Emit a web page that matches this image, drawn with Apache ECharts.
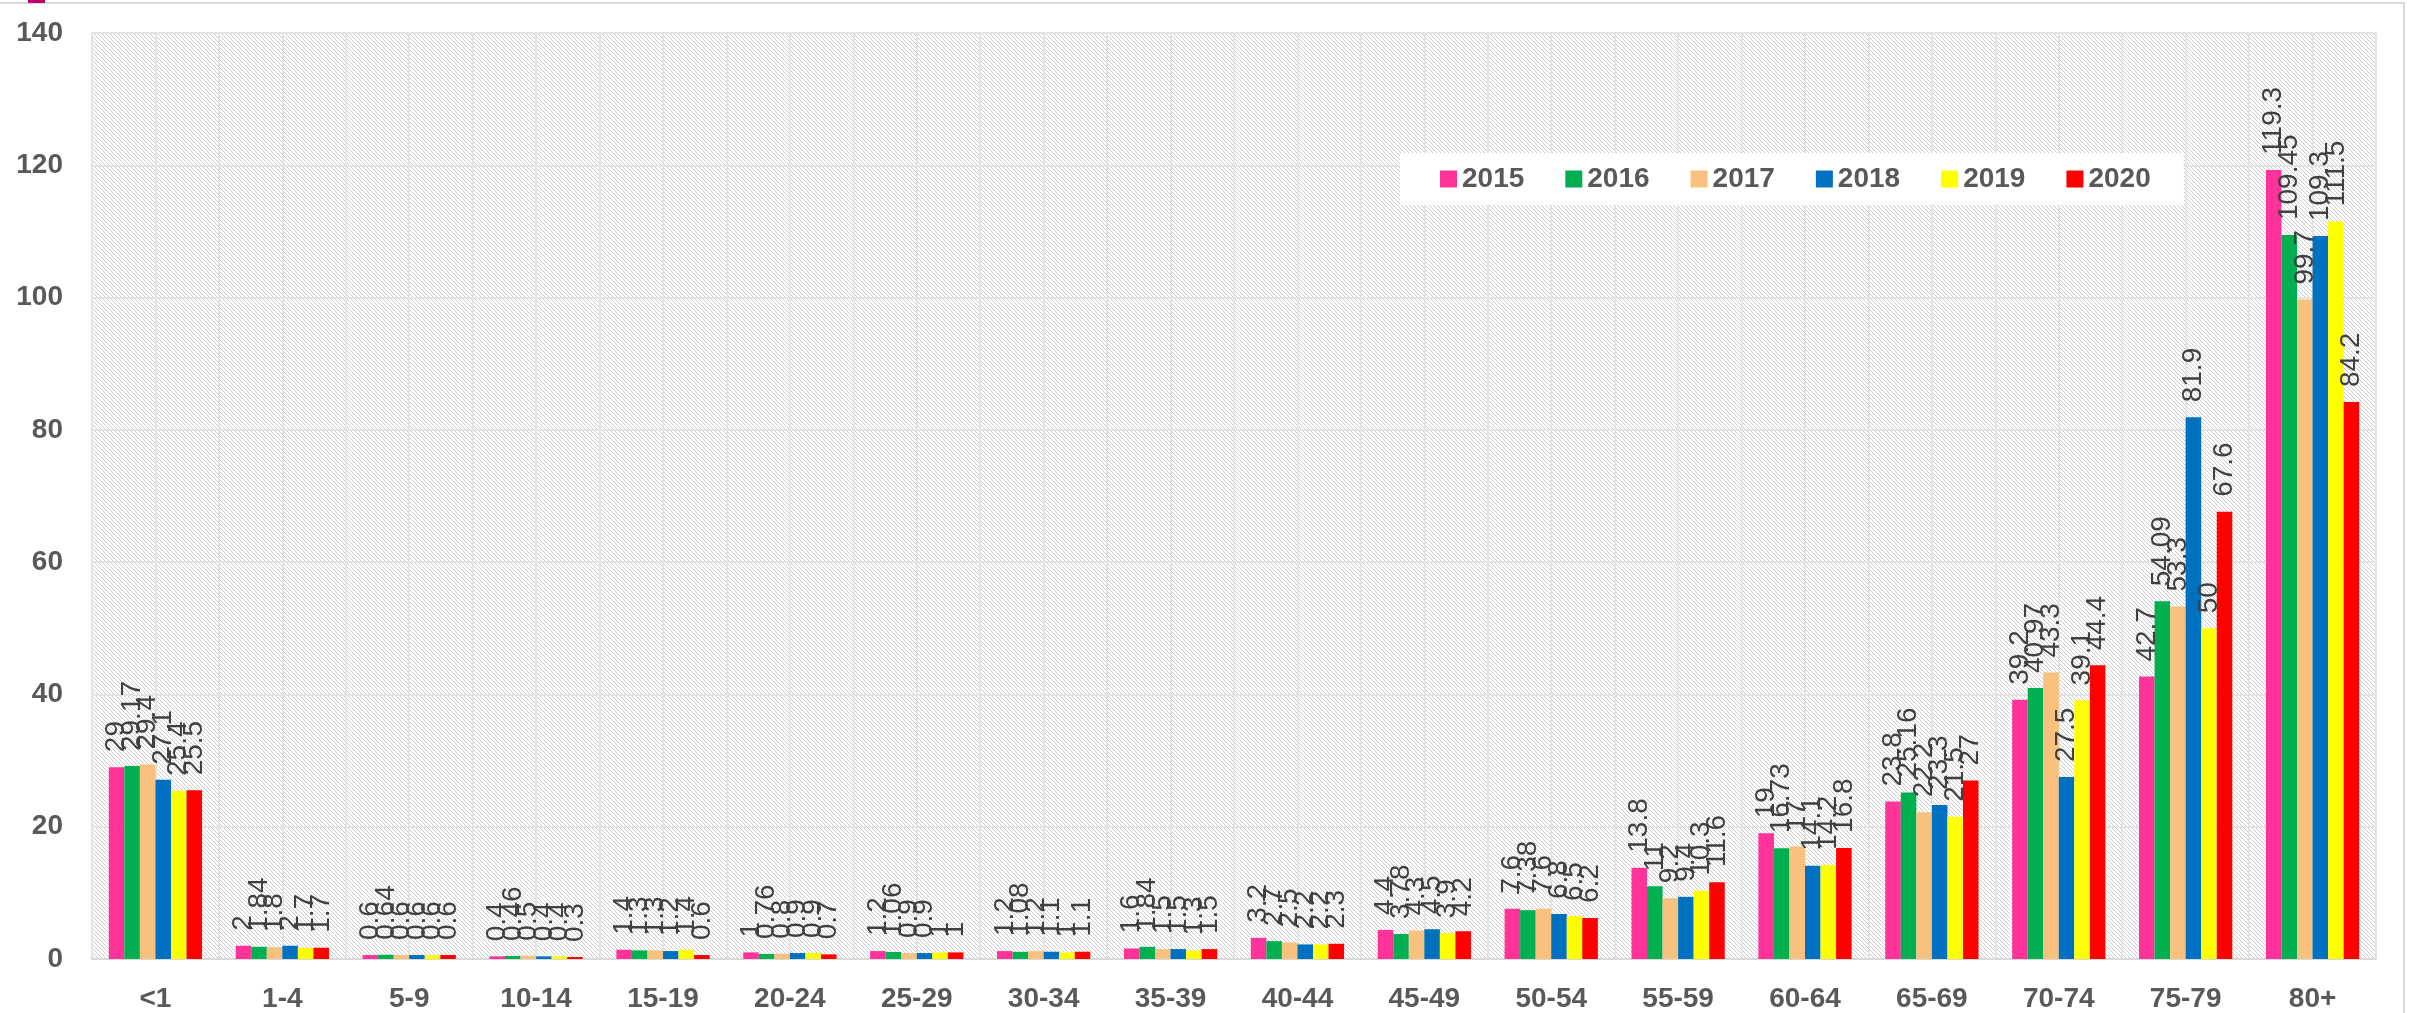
<!DOCTYPE html>
<html>
<head>
<meta charset="utf-8">
<title>Age group rates 2015-2020</title>
<script src="https://cdn.jsdelivr.net/npm/echarts@6/dist/echarts.min.js"></script>
<style>
    html, body { margin: 0; padding: 0; background: #fff; }
    #chart { width: 2410px; height: 1013px; }
</style>
</head>
<body>
<div id="chart"></div>
<script>
// Chart data
const categories = ['<1', '1-4', '5-9', '10-14', '15-19', '20-24', '25-29', '30-34', '35-39',
    '40-44', '45-49', '50-54', '55-59', '60-64', '65-69', '70-74', '75-79', '80+'];
const years = ['2015', '2016', '2017', '2018', '2019', '2020'];
const y2015 = [29, 2, 0.6, 0.4, 1.4, 1, 1.2, 1.2, 1.6, 3.2, 4.4, 7.6, 13.8, 19, 23.8, 39.2, 42.7, 119.3];
const y2016 = [29.17, 1.84, 0.64, 0.46, 1.3, 0.76, 1.06, 1.08, 1.84, 2.7, 3.78, 7.38, 11, 16.73, 25.16, 40.97, 54.09, 109.45];
const y2017 = [29.4, 1.8, 0.6, 0.5, 1.3, 0.8, 0.9, 1.2, 1.5, 2.5, 4.3, 7.6, 9.2, 17, 22.2, 43.3, 53.3, 99.7];
const y2018 = [27.1, 2, 0.6, 0.4, 1.2, 0.9, 0.9, 1.1, 1.5, 2.2, 4.5, 6.8, 9.4, 14.1, 23.3, 27.5, 81.9, 109.3];
const y2019 = [25.4, 1.7, 0.6, 0.4, 1.4, 0.9, 1, 1, 1.3, 2.2, 3.9, 6.5, 10.3, 14.2, 21.5, 39.1, 50, 111.5];
const y2020 = [25.5, 1.7, 0.6, 0.3, 0.6, 0.7, 1, 1.1, 1.5, 2.3, 4.2, 6.2, 11.6, 16.8, 27, 44.4, 67.6, 84.2];
const yTicks = { min: 0, max: 140, interval: 20 };

const seriesData = [y2015, y2016, y2017, y2018, y2019, y2020];
const colors = ['#FF3399', '#00B050', '#F8C27E', '#0070C0', '#FFFF00', '#FF0000'];

// Light diagonal hatch for the plot area
function makeHatch() {
    const c = document.createElement('canvas');
    c.width = 4;
    c.height = 4;
    const ctx = c.getContext('2d');
    ctx.fillStyle = '#ffffff';
    ctx.fillRect(0, 0, 4, 4);
    ctx.fillStyle = '#cccccc';
    for (let i = 0; i < 4; i++) {
        ctx.fillRect(i, i, 1, 1);
    }
    return c;
}

const axisFont = {
    fontFamily: '"Liberation Sans", Arial, sans-serif',
    fontSize: 28,
    fontWeight: 'bold',
    color: '#595959'
};

const chart = echarts.init(document.getElementById('chart'));

const option = {
    animation: false,
    backgroundColor: '#ffffff',
    color: colors,
    grid: {
        left: 92,
        right: 34,
        top: 33,
        bottom: 53,
        show: true,
        borderWidth: 0,
        backgroundColor: { image: makeHatch(), repeat: 'repeat' }
    },
    legend: {
        data: years,
        left: 1400,
        top: 153,
        padding: [12, 33, 12, 40],
        backgroundColor: '#ffffff',
        itemWidth: 17,
        itemHeight: 17,
        itemGap: 41,
        icon: 'rect',
        textStyle: axisFont
    },
    xAxis: [{
        type: 'category',
        data: categories,
        axisTick: { show: false },
        axisLine: { lineStyle: { color: '#d9d9d9', width: 2 } },
        axisLabel: Object.assign({ margin: 26 }, axisFont),
        splitLine: { show: false }
    }, {
        // half-category vertical grid lines
        type: 'value',
        min: 0,
        max: categories.length * 2,
        interval: 1,
        show: true,
        axisLine: { show: false },
        axisTick: { show: false },
        axisLabel: { show: false },
        splitLine: { show: true, lineStyle: { color: '#e4e4e4', width: 2 } }
    }],
    yAxis: {
        type: 'value',
        min: yTicks.min,
        max: yTicks.max,
        interval: yTicks.interval,
        axisLine: { show: false },
        axisTick: { show: false },
        axisLabel: Object.assign({ margin: 29 }, axisFont),
        splitLine: { lineStyle: { color: '#e4e4e4', width: 2 } }
    },
    series: years.map((name, i) => ({
        name: name,
        type: 'bar',
        xAxisIndex: 0,
        data: seriesData[i],
        barGap: '0%',
        barCategoryGap: '26.5%',
        itemStyle: { color: colors[i] },
        label: {
            show: true,
            position: 'top',
            rotate: 90,
            align: 'left',
            verticalAlign: 'middle',
            distance: 15,
            fontFamily: '"Liberation Sans Narrow", "Arial Narrow", sans-serif',
            fontSize: 28,
            color: '#404040'
        }
    })),
    graphic: [{
        type: 'rect',
        shape: { x: -10, y: 3, width: 2414, height: 1030 },
        style: { fill: null, stroke: '#d9d9d9', lineWidth: 2 },
        silent: true
    }, {
        type: 'rect',
        shape: { x: 28, y: 0, width: 17, height: 3 },
        style: { fill: '#C0006A' },
        silent: true
    }]
};

chart.setOption(option);
</script>
</body>
</html>
